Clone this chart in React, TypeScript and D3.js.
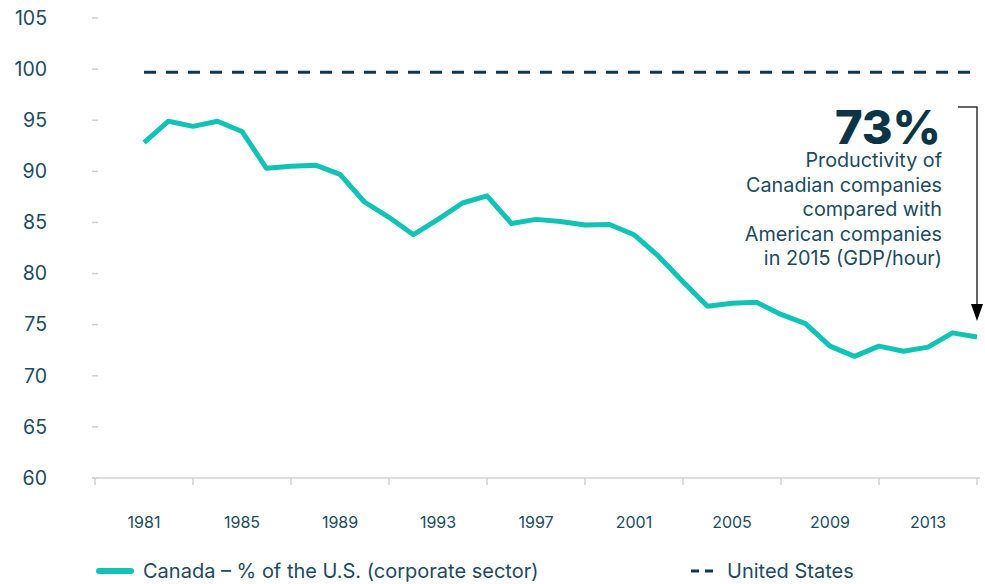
import React from 'react';
import * as d3 from 'd3';

const years = d3.range(1981, 2016);
const canada = [
  92.8, 94.9, 94.4, 94.9, 93.9, 90.3, 90.5, 90.6, 89.7, 87.0,
  85.5, 83.8, 85.3, 86.9, 87.6, 84.9, 85.3, 85.1, 84.75, 84.8,
  83.8, 81.7, 79.2, 76.8, 77.1, 77.2, 76.0, 75.1, 72.9, 71.9,
  72.9, 72.4, 72.8, 74.2, 73.8,
];
const usLevel = 99.7;
const yTicks = [60, 65, 70, 75, 80, 85, 90, 95, 100, 105];
const xLabels = [1981, 1985, 1989, 1993, 1997, 2001, 2005, 2009, 2013];
const xTickMarks = [1979, 1983, 1987, 1991, 1995, 1999, 2003, 2007, 2011, 2015];
const noteLines = [
  'Productivity of',
  'Canadian companies',
  'compared with',
  'American companies',
  'in 2015 (GDP/hour)',
];

const teal = '#12c3b5';
const navy = '#0e3a4e';
const textColor = '#1d4a5e';
const font = 'Inter, "Noto Sans", sans-serif';

const App: React.FC = () => {
  const width = 985;
  const height = 584;

  // scales
  const x = d3.scaleLinear().domain([1981, 2015]).range([144, 977]);
  const y = d3.scaleLinear().domain([60, 105]).range([478, 18]);

  const line = d3.line<number>()
    .x((_, i) => x(years[i]))
    .y((d) => y(d));

  return (
    <svg width={width} height={height} style={{ position: 'absolute', left: 0, top: 0, fontFamily: font }}>
      {/* y axis ticks + labels */}
      {yTicks.map((t) => (
        <g key={t}>
          <line x1={92} x2={98} y1={y(t)} y2={y(t)} stroke="#cfcfcf" strokeWidth={1.5} />
          <text x={47} y={y(t)} dy="0.35em" textAnchor="end" fontSize={19.5} fill={textColor}>{t}</text>
        </g>
      ))}

      {/* x axis */}
      <line x1={92} x2={980} y1={y(60)} y2={y(60)} stroke="#d2d2d2" strokeWidth={1.5} />
      {xTickMarks.map((t) => (
        <line key={t} x1={x(t)} x2={x(t)} y1={y(60)} y2={y(60) + 7} stroke="#d2d2d2" strokeWidth={1.5} />
      ))}
      {xLabels.map((t) => (
        <text key={t} x={x(t)} y={y(60) + 50} textAnchor="middle" fontSize={16} fill={textColor}>{t}</text>
      ))}

      {/* US reference */}
      <line x1={x(1981)} x2={980} y1={y(usLevel)} y2={y(usLevel)} stroke={navy}
        strokeWidth={3} strokeDasharray="12,10" />

      {/* Canada line */}
      <path d={line(canada) || ''} fill="none" stroke={teal} strokeWidth={5} strokeLinejoin="round" />

      {/* annotation */}
      <text x={941} y={144} textAnchor="end" fontSize={47} fontWeight={800} fill="#0b3447">73%</text>
      {noteLines.map((l, i) => (
        <text key={l} x={942} y={167 + i * 24.5} textAnchor="end" fontSize={19.8} fill={textColor}>{l}</text>
      ))}
      <polyline points={`958,107 977,107 977,305`} fill="none" stroke="#333" strokeWidth={1.5} />
      <path d="M971,304 L983,304 L977,321 Z" fill="#000" />

      {/* legend */}
      <line x1={99} x2={131} y1={571} y2={571} stroke={teal} strokeWidth={6} strokeLinecap="round" />
      <text x={143} y={571} dy="0.35em" fontSize={20} fill={textColor}>Canada – % of the U.S. (corporate sector)</text>
      <line x1={691} x2={713} y1={571} y2={571} stroke={navy} strokeWidth={3} strokeDasharray="8,6" />
      <text x={727} y={571} dy="0.35em" fontSize={20} fill={textColor}>United States</text>
    </svg>
  );
};

export default App;
